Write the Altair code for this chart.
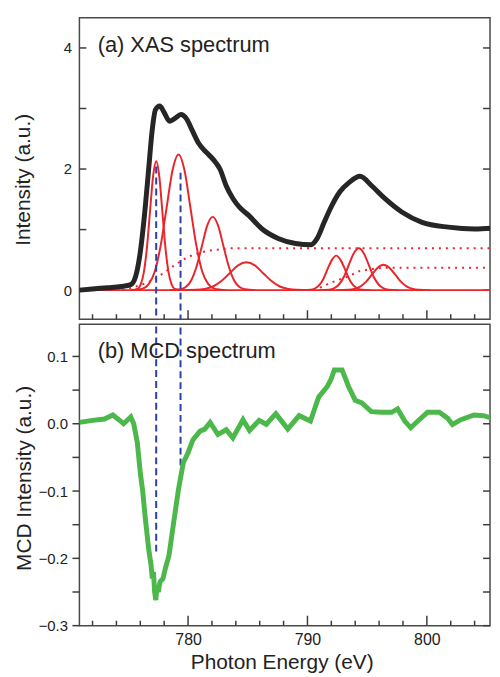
import altair as alt
import pandas as pd

# ---------------- data ----------------
xas_e = [770.9, 772.0, 773.3, 774.4, 775.2, 775.6, 776.0, 776.4, 776.7, 777.0, 777.27, 777.63,
         777.96, 778.46, 778.93, 779.4, 779.9, 780.32, 780.87, 781.56, 782.1, 782.67, 783.2, 783.77,
         784.3, 785.1, 786.2, 787.6, 789.0, 790.3, 790.8, 791.4, 791.9, 792.7, 793.5, 794.4, 795.4,
         796.5, 797.9, 799.6, 801.8, 804.0, 806.0]
xas_v = [0.0, 0.02, 0.04, 0.06, 0.09, 0.22, 0.63, 1.34, 2.0, 2.65, 2.98, 3.04,
         2.95, 2.79, 2.84, 2.9, 2.82, 2.65, 2.43, 2.27, 2.16, 2.0, 1.72, 1.51,
         1.37, 1.23, 1.01, 0.85, 0.77, 0.75, 0.85, 1.12, 1.34, 1.62, 1.78, 1.88, 1.72,
         1.51, 1.29, 1.12, 1.04, 1.01, 1.03]

g1_e = [775.25, 775.77, 776.03, 776.29, 776.55, 776.81, 777.07, 777.33, 777.59, 777.85, 778.11, 778.37, 778.63, 778.89, 779.41]
g1_v = [0.0, 0.02, 0.09, 0.29, 0.69, 1.29, 1.88, 2.13, 1.88, 1.29, 0.69, 0.29, 0.09, 0.02, 0.0]
g2_e = [775.2, 776.2, 776.7, 777.2, 777.7, 778.2, 778.7, 779.2, 779.7, 780.2, 780.7, 781.2, 781.7, 782.2, 783.2]
g2_v = [0.0, 0.025, 0.10, 0.30, 0.73, 1.36, 1.98, 2.24, 1.98, 1.36, 0.73, 0.30, 0.10, 0.025, 0.0]
g3_e = [778.46, 779.36, 779.81, 780.26, 780.71, 781.16, 781.61, 782.06, 782.51, 782.96, 783.41, 783.86, 784.31, 784.76, 785.66]
g3_v = [0.0, 0.013, 0.05, 0.16, 0.39, 0.73, 1.07, 1.21, 1.07, 0.73, 0.39, 0.16, 0.05, 0.013, 0.0]
g4_e = [779.29, 780.69, 781.39, 782.09, 782.79, 783.49, 784.19, 784.89, 785.59, 786.29, 786.99, 787.69, 788.39, 789.09, 790.49]
g4_v = [0.0, 0.005, 0.02, 0.06, 0.15, 0.28, 0.41, 0.46, 0.41, 0.28, 0.15, 0.06, 0.02, 0.005, 0.0]
g5_e = [789.53, 790.25, 790.61, 790.97, 791.33, 791.69, 792.05, 792.41, 792.77, 793.13, 793.49, 793.85, 794.21, 794.57, 795.29]
g5_v = [0.0, 0.006, 0.025, 0.077, 0.185, 0.35, 0.50, 0.57, 0.50, 0.35, 0.185, 0.077, 0.025, 0.006, 0.0]
g6_e = [790.98, 791.81, 792.225, 792.64, 793.055, 793.47, 793.885, 794.3, 794.715, 795.13, 795.545, 795.96, 796.375, 796.79, 797.62]
g6_v = [0.0, 0.008, 0.03, 0.093, 0.22, 0.42, 0.61, 0.69, 0.61, 0.42, 0.22, 0.093, 0.03, 0.008, 0.0]
g7_e = [792.45, 793.43, 793.92, 794.41, 794.9, 795.39, 795.88, 796.37, 796.86, 797.35, 797.84, 798.33, 798.82, 799.31, 800.29]
g7_v = [0.0, 0.005, 0.018, 0.057, 0.136, 0.255, 0.37, 0.42, 0.37, 0.255, 0.136, 0.057, 0.018, 0.005, 0.0]

step1_e = [774.5, 775.0, 776.4, 777.2, 778.0, 779.0, 780.0, 781.0, 782.0, 783.5, 806.0]
step1_v = [0.0, 0.02, 0.11, 0.18, 0.29, 0.43, 0.55, 0.62, 0.66, 0.69, 0.69]
step2_e = [790.5, 791.3, 791.8, 792.6, 793.35, 794.3, 795.1, 796.25, 806.0]
step2_v = [0.0, 0.06, 0.11, 0.17, 0.22, 0.31, 0.34, 0.37, 0.37]

base_e = [771.6, 806.0]
base_v = [0.0, 0.0]

mcd_e = [770.9, 772.0, 773.0, 773.7, 774.2, 774.6, 775.2, 775.45, 775.75, 776.0, 776.2, 776.4,
         776.7, 776.9, 777.0, 777.1, 777.2, 777.3, 777.4, 777.5, 777.65, 777.9, 778.1, 778.4,
         778.8, 779.2, 779.6, 780.0, 780.4, 781.0, 781.4, 781.85, 782.5, 783.2, 783.75, 784.6,
         785.15, 785.95, 786.55, 787.35, 788.35, 789.3, 790.25, 790.65, 790.95, 791.65, 791.95,
         792.25, 792.9, 793.45, 794.0, 794.55, 795.35, 796.2, 797.05, 797.55, 798.15, 798.65,
         799.25, 800.05, 801.05, 801.75, 802.15, 802.85, 803.95, 804.75, 806.0]
mcd_v = [0.002, 0.005, 0.007, 0.013, 0.006, 0.0, 0.01, 0.0, -0.028, -0.073, -0.1, -0.137,
         -0.186, -0.21, -0.23, -0.22, -0.25, -0.262, -0.24, -0.25, -0.235, -0.23, -0.215, -0.196,
         -0.146, -0.097, -0.058, -0.043, -0.024, -0.011, -0.008, 0.002, -0.016, -0.009, -0.021, 0.006,
         -0.01, 0.005, -0.001, 0.015, -0.008, 0.012, 0.004, 0.025, 0.04, 0.055, 0.065,
         0.08, 0.08, 0.055, 0.035, 0.031, 0.018, 0.017, 0.017, 0.022, 0.004, -0.006,
         0.004, 0.017, 0.017, 0.008, -0.001, 0.006, 0.013, 0.012, 0.005]

blue_e = [777.33, 779.37]
blue_top_start = [2.04, 1.94]
blue_bottom_end = [-0.19, -0.062]

x_major = [780, 790, 800]
x_minor = [772, 774, 776, 778, 782, 784, 786, 788, 792, 794, 796, 798, 802, 804]
y_top_labels = [0, 2, 4]
y_top_ticks = [0, 1, 2, 3, 4]
y_bot_labels = [-0.3, -0.2, -0.1, 0.0, 0.1]
y_bot_ticks = [-0.3, -0.25, -0.2, -0.15, -0.1, -0.05, 0.0, 0.05, 0.1]

W, H1, H2 = 414, 304, 304
XD = [770.9, 805.29]
YT = [-0.48, 4.5]
YB = [-0.3, 0.148]
FONT = "Liberation Sans"
TICK = "#3c3c3c"
RED = "#e8262c"
BLUE = "#2b3fa8"

# pixel -> data-unit conversion factors for tick lengths
PX_X = (XD[1] - XD[0]) / W
PX_YT = (YT[1] - YT[0]) / H1
PX_YB = (YB[1] - YB[0]) / H2

# ---------------- tables ----------------
xas = pd.DataFrame({"e": xas_e, "v": xas_v})
gauss = pd.concat([pd.DataFrame({"e": e, "v": v, "c": name}) for name, e, v in [
    ("g1", g1_e, g1_v), ("g2", g2_e, g2_v), ("g3", g3_e, g3_v), ("g4", g4_e, g4_v),
    ("g5", g5_e, g5_v), ("g6", g6_e, g6_v), ("g7", g7_e, g7_v)]])
steps = pd.concat([pd.DataFrame({"e": step1_e, "v": step1_v, "c": "s1"}),
                   pd.DataFrame({"e": step2_e, "v": step2_v, "c": "s2"})])
base = pd.DataFrame({"e": base_e, "v": base_v})
mcd = pd.DataFrame({"e": mcd_e, "v": mcd_v})
blue = pd.DataFrame({"e": blue_e, "top": blue_top_start, "bot": blue_bottom_end})

xs = alt.Scale(domain=XD, nice=False, zero=False)
yts = alt.Scale(domain=YT, nice=False, zero=False)
ybs = alt.Scale(domain=YB, nice=False, zero=False)


def xticks(vals, ys, ybot, length_units, tag):
    df = pd.DataFrame({"xt_" + tag: vals})
    return alt.Chart(df).mark_rule(color=TICK, strokeWidth=1.5).encode(
        x=alt.X(f"xt_{tag}:Q", scale=xs, axis=None),
        y=alt.datum(ybot, scale=ys, axis=None),
        y2=alt.datum(ybot + length_units),
    )


def yticks(vals, ys, x0, x1, tag):
    df = pd.DataFrame({"yt_" + tag: vals})
    return alt.Chart(df).mark_rule(color=TICK, strokeWidth=1.5).encode(
        y=alt.Y(f"yt_{tag}:Q", scale=ys, axis=None),
        x=alt.datum(x0, scale=xs, axis=None),
        x2=alt.datum(x1),
    )


# ---------------- top panel ----------------
t_steps = alt.Chart(steps).mark_line(color=RED, strokeWidth=2, strokeDash=[2, 5], clip=True).encode(
    x=alt.X("e:Q", scale=xs, axis=None),
    y=alt.Y("v:Q", scale=yts, axis=None),
    detail="c:N",
)
t_gauss = alt.Chart(gauss).mark_line(color=RED, strokeWidth=2, interpolate="monotone", clip=True).encode(
    x=alt.X("e:Q", scale=xs, axis=None),
    y=alt.Y("v:Q", scale=yts, axis=None),
    detail="c:N",
)
t_base = alt.Chart(base).mark_line(color=RED, strokeWidth=2, clip=True).encode(
    x=alt.X("e:Q", scale=xs, axis=None), y=alt.Y("v:Q", scale=yts, axis=None))
t_xas = alt.Chart(xas).mark_line(color="#262626", strokeWidth=5, interpolate="monotone", clip=True).encode(
    x=alt.X("e:Q", scale=xs, axis=None),
    y=alt.Y("v:Q", scale=yts, axis=alt.Axis(
        orient="left", values=y_top_labels, ticks=False, tickSize=0, labelPadding=8, domain=False,
        grid=False, labelFontSize=15, labelFont=FONT, labelColor="#222",
        title="Intensity (a.u.)", titleFontSize=21, titleFont=FONT, titleFontWeight="normal",
        titleColor="#222", titleAngle=270, titleX=-56, titleY=163, titleBaseline="middle",
        titleAlign="center")),
)
t_blue = alt.Chart(blue).mark_rule(color=BLUE, strokeWidth=2, strokeDash=[7, 4], clip=True).encode(
    x=alt.X("e:Q", scale=xs, axis=None),
    y=alt.Y("top:Q", scale=yts, axis=None),
    y2=alt.datum(YT[0]),
)
t_text = alt.Chart().mark_text(text="(a) XAS spectrum", align="left", baseline="alphabetic",
                               font=FONT, fontSize=22, color="#222").encode(
    x=alt.datum(772.43, scale=xs, axis=None), y=alt.datum(3.93, scale=yts, axis=None))

top = alt.layer(
    yticks(y_top_ticks, yts, XD[0], XD[0] + 7 * PX_X, "tl"),
    yticks(y_top_ticks, yts, XD[1] - 7 * PX_X, XD[1], "tr"),
    xticks(x_minor, yts, YT[0], 5 * PX_YT, "tn"),
    xticks(x_major, yts, YT[0], 9 * PX_YT, "tj"),
    t_steps, t_gauss, t_base, t_xas, t_blue, t_text,
).resolve_axis(x="independent", y="independent").properties(width=W, height=H1)

# ---------------- bottom panel ----------------
b_mcd = alt.Chart(mcd).mark_line(color="#4cb84c", strokeWidth=5, clip=True).encode(
    x=alt.X("e:Q", scale=xs, axis=alt.Axis(
        orient="bottom", values=x_major, ticks=False, tickSize=0, labelPadding=6, domain=False,
        grid=False, labelFontSize=16, labelFont=FONT, labelColor="#222",
        title="Photon Energy (eV)", titleFontSize=21, titleFont=FONT, titleFontWeight="normal",
        titleColor="#222", titleX=204, titleY=43, titleBaseline="alphabetic", titleAlign="center")),
    y=alt.Y("v:Q", scale=ybs, axis=alt.Axis(
        orient="left", values=y_bot_labels, format=".1f", ticks=False, tickSize=0, labelPadding=12,
        domain=False, grid=False, labelFontSize=15, labelFont=FONT, labelColor="#222",
        title="MCD Intensity (a.u.)", titleFontSize=21, titleFont=FONT, titleFontWeight="normal",
        titleColor="#222", titleAngle=270, titleX=-55, titleY=155, titleBaseline="middle",
        titleAlign="center")),
)
b_blue = alt.Chart(blue).mark_rule(color=BLUE, strokeWidth=2, strokeDash=[7, 4], clip=True).encode(
    x=alt.X("e:Q", scale=xs, axis=None),
    y=alt.Y("bot:Q", scale=ybs, axis=None),
    y2=alt.datum(YB[1]),
)
b_text = alt.Chart().mark_text(text="(b) MCD spectrum", align="left", baseline="alphabetic",
                               font=FONT, fontSize=22, color="#222").encode(
    x=alt.datum(772.43, scale=xs, axis=None), y=alt.datum(0.097, scale=ybs, axis=None))

bottom = alt.layer(
    yticks(y_bot_ticks, ybs, XD[0] - 7 * PX_X, XD[0], "bl"),
    yticks(y_bot_ticks, ybs, XD[1] - 7 * PX_X, XD[1], "br"),
    xticks(x_minor, ybs, YB[0], 5 * PX_YB, "bn"),
    xticks(x_major, ybs, YB[0], 10 * PX_YB, "bj"),
    b_blue, b_mcd, b_text,
).resolve_axis(x="independent", y="independent").properties(width=W, height=H2)

chart = alt.vconcat(top, bottom, spacing=2).properties(
    padding={"left": 4, "top": 6, "right": 0, "bottom": 0}
).configure_view(stroke="#4a4a4a", strokeWidth=1.5)

chart.save("out.html", embed_options={"renderer": "svg", "actions": False})
